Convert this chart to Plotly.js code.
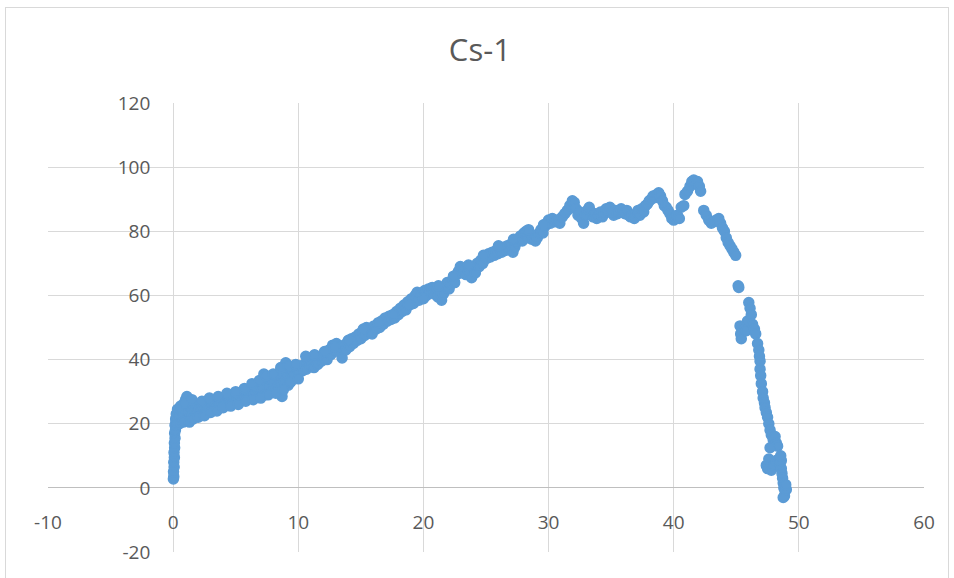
<!DOCTYPE html>
<html>
<head>
<meta charset="utf-8">
<script src="https://cdn.plot.ly/plotly-3.0.1.min.js"></script>
<style>
  html, body { margin: 0; padding: 0; background: #ffffff; }
  #chart { position: absolute; left: 0; top: 0; width: 954px; height: 578px; }
  #frame { position: absolute; left: 5px; top: 7px; width: 942px; height: 600px;
           border: 1px solid #d9d9d9; pointer-events: none; }
</style>
</head>
<body>
<div id="chart"></div>
<div id="frame"></div>
<script>
// ---- data ----
const chartTitle = "Cs-1";

const xValues = [
  0.02,0.05,0.03,0.08,0.05,0.10,0.07,0.12,0.10,0.15,0.12,0.18,0.15,0.22,0.20,0.30,0.25,0.40,0.45,0.35,
  0.55,0.60,0.70,0.75,0.85,0.95,1.00,1.10,1.05,1.20,1.30,1.40,1.50,1.60,1.70,1.80,1.90,2.00,2.10,2.20,
  2.30,2.45,2.60,2.70,2.85,3.00,3.10,3.25,3.40,3.50,3.65,3.80,3.95,4.10,4.25,4.40,4.55,4.70,4.85,5.00,
  5.15,5.30,5.45,5.60,5.75,5.90,6.05,6.20,6.35,6.50,6.60,6.75,6.90,7.00,7.15,7.25,7.35,7.50,7.60,7.70,
  7.85,8.00,8.10,8.25,8.40,8.50,8.60,8.70,8.80,8.90,9.00,9.10,9.20,9.30,9.45,9.60,9.75,9.90,10.05,10.20,
  10.35,10.50,10.65,10.80,10.95,11.10,11.25,11.40,11.55,11.70,11.85,12.00,12.15,12.30,12.45,12.60,12.75,12.90,13.05,13.20,
  13.35,13.50,13.65,13.80,13.95,14.10,14.25,14.40,14.55,14.70,14.85,15.00,15.15,15.30,15.45,15.60,15.75,15.90,16.05,16.20,
  16.35,16.50,16.65,16.80,16.95,17.10,17.25,17.40,17.55,17.70,17.85,18.00,18.15,18.30,18.45,18.60,18.75,18.90,19.05,19.20,
  19.35,19.50,19.65,19.80,19.95,20.10,20.25,20.40,20.55,20.70,20.85,21.00,21.15,21.30,21.45,21.60,21.75,21.90,22.05,22.20,
  22.35,22.50,22.65,22.80,22.95,23.10,23.25,23.40,23.55,23.70,23.85,24.00,24.15,24.30,24.45,24.60,24.75,24.90,25.05,25.20,
  25.35,25.50,25.65,25.80,25.95,26.10,26.25,26.40,26.55,26.70,26.85,27.00,27.15,27.30,27.45,27.60,27.75,27.90,28.05,28.20,
  28.35,28.50,28.65,28.80,28.95,29.10,29.25,29.40,29.55,29.70,29.85,30.00,30.15,30.30,30.50,30.70,30.90,31.10,31.30,31.50,
  31.70,31.90,32.05,32.20,32.35,32.50,32.65,32.80,32.95,33.10,33.25,33.40,33.55,33.70,33.85,34.00,34.15,34.30,34.45,34.60,
  34.75,34.90,35.05,35.20,35.35,35.50,35.65,35.80,35.95,36.10,36.25,36.40,36.55,36.70,36.85,37.00,37.15,37.30,37.45,37.60,
  37.75,37.90,38.05,38.20,38.35,38.50,38.65,38.80,38.95,39.10,39.25,39.40,39.55,39.70,39.85,40.00,40.15,40.30,40.45,40.60,
  40.80,40.90,41.10,41.30,41.45,41.60,41.75,41.90,42.05,42.15,42.40,42.60,42.80,43.00,43.20,43.40,43.60,43.75,43.90,44.05,
  44.20,44.35,44.50,44.65,44.80,44.95,45.15,45.20,45.30,45.35,45.40,45.55,45.70,45.80,45.90,46.00,46.10,46.20,46.30,46.45,
  46.55,46.70,46.80,46.85,46.90,46.90,46.95,47.00,47.10,47.15,47.25,47.30,47.40,47.50,47.60,47.70,47.80,47.95,48.10,48.20,
  48.30,47.70,47.60,47.40,47.50,47.80,48.00,48.20,48.40,48.50,48.60,48.65,48.70,48.75,48.80,48.90,48.85,48.75,49.00,48.95,
  48.60,48.55,
  0.30,0.50,0.80,1.30,1.60,2.00,2.50,3.00,3.50,4.00,4.60,5.20,5.80,6.40,7.00,7.60,8.20,8.80,9.40,10.00,
  0.60,0.90,1.50,2.30,2.90,3.60,4.30,5.00,5.70,6.30,6.90,7.40,8.00,8.60,9.20,9.80,10.60,11.30,12.10,12.90,
  14.00,15.20,16.40,17.60,18.80,20.00,21.20,22.40,23.60,24.80,26.00,27.20,28.40,29.60
];

const yValues = [
  2.8,3.5,5.0,6.5,8.0,9.5,11.0,12.5,14.0,15.5,17.0,18.0,19.5,20.5,21.5,22.0,23.0,21.0,23.5,24.5,
  22.5,24.5,21.5,25.0,23.0,26.0,27.5,28.5,24.0,21.0,25.5,22.5,26.5,24.0,22.0,25.5,23.5,26.0,24.5,22.5,
  25.0,26.5,23.5,25.5,24.5,26.5,25.0,27.0,25.5,27.5,26.0,28.0,26.5,27.5,26.0,28.5,27.0,28.0,26.5,28.5,
  27.5,29.0,27.5,29.5,28.0,30.0,28.5,31.0,29.0,32.0,29.5,31.0,28.5,33.0,30.5,35.5,29.0,33.0,31.5,34.0,
  30.0,33.5,31.0,35.0,30.5,36.0,32.5,28.5,37.5,33.0,39.0,35.0,32.0,37.0,34.5,36.5,35.0,37.5,36.0,38.0,
  36.5,38.5,37.0,40.0,38.0,39.0,37.5,40.0,38.5,41.0,39.5,40.5,42.0,40.0,43.0,41.5,44.5,43.0,45.0,42.5,
  44.0,40.5,44.5,43.0,45.5,44.0,46.5,45.0,47.0,46.0,48.0,46.5,49.0,47.5,50.0,48.5,49.5,48.0,50.5,49.5,
  51.0,50.0,52.0,51.0,53.0,52.0,53.5,52.5,54.0,53.0,55.0,54.0,56.0,55.0,57.0,55.5,58.0,57.0,59.0,57.5,
  60.0,61.0,58.5,60.5,59.5,61.5,60.0,62.0,61.0,62.5,60.5,62.0,59.5,61.0,58.5,60.5,62.5,64.0,62.0,63.5,
  65.0,64.0,66.5,67.5,69.0,67.0,68.5,66.5,68.0,67.0,65.5,68.5,67.0,70.0,69.0,71.0,70.0,72.0,71.5,73.0,
  72.0,73.5,72.5,74.0,73.0,74.5,73.5,75.0,74.0,75.5,74.5,76.0,73.5,75.0,76.5,77.5,78.5,77.0,79.5,80.0,
  78.0,79.0,77.5,78.5,77.0,78.0,79.5,80.5,79.5,81.5,82.5,83.5,82.5,84.0,83.0,83.5,82.5,84.5,85.5,86.5,
  88.0,89.5,89.0,87.0,85.0,86.0,84.0,82.5,85.0,86.5,87.5,86.0,84.5,85.5,84.0,85.0,86.0,84.5,85.5,87.0,
  86.0,87.5,86.0,85.0,86.5,85.5,86.0,87.0,86.0,85.5,86.5,85.0,84.5,85.0,84.0,85.5,86.5,85.0,87.0,86.0,
  88.0,88.5,89.5,90.0,91.0,90.5,91.5,92.0,91.0,89.5,88.0,87.5,86.5,85.5,84.0,83.5,84.5,85.0,84.0,87.5,
  88.0,91.5,92.5,94.0,95.5,96.0,95.0,95.5,94.0,92.5,86.5,85.0,83.5,82.5,83.0,83.5,84.0,82.5,81.0,80.0,
  78.0,76.5,75.5,74.5,73.5,72.5,63.0,62.5,50.5,48.0,46.5,49.0,50.5,49.0,52.0,57.8,56.0,54.0,51.0,49.5,
  48.0,45.0,43.0,41.0,39.5,37.0,35.0,32.5,30.0,28.0,26.5,25.0,23.5,22.0,20.0,18.0,16.5,15.0,16.0,14.0,
  13.0,12.5,9.0,7.0,6.0,5.5,7.0,8.5,9.0,7.5,6.0,4.5,3.0,1.5,0.0,-1.0,-2.5,-3.0,-0.5,1.0,
  8.5,10.0,
  19.5,20.0,20.5,20.5,21.5,22.0,22.5,23.5,24.0,25.0,25.5,26.0,27.0,27.5,28.0,29.0,29.5,30.5,33.0,34.0,
  25.5,26.5,27.5,27.0,28.0,28.5,29.5,30.0,31.0,32.5,33.5,35.0,35.5,37.5,38.0,38.5,41.0,41.5,42.5,44.0,
  46.0,49.5,51.5,54.0,57.0,59.0,63.0,66.0,69.5,72.5,75.5,77.5,80.5,82.0
];

const xTickValues = [-10, 0, 10, 20, 30, 40, 50, 60];
const xTickLabels = ["-10", "0", "10", "20", "30", "40", "50", "60"];
const yTickValues = [-20, 0, 20, 40, 60, 80, 100, 120];
const yTickLabels = ["-20", "0", "20", "40", "60", "80", "100", "120"];

// ---- chart ----
const xRange = [-10, 60];
const yRange = [-20, 120];
const tickFont = { family: "Open Sans, sans-serif", size: 19, color: "#595959" };

const trace = {
  type: "scatter",
  mode: "markers",
  x: xValues,
  y: yValues,
  marker: { color: "#5b9bd5", size: 10, line: { color: "#5b9bd5", width: 1.5 } },
  hoverinfo: "x+y",
  showlegend: false
};

const layout = {
  width: 954,
  height: 578,
  margin: { l: 48, r: 30, t: 103, b: 26, pad: 0 },
  paper_bgcolor: "#ffffff",
  plot_bgcolor: "#ffffff",
  title: {
    text: chartTitle,
    font: { family: "Open Sans, sans-serif", size: 31, color: "#595959" },
    xref: "container", x: 0.503, xanchor: "center",
    yref: "container", y: 0.913, yanchor: "middle"
  },
  xaxis: {
    range: xRange,
    tickvals: xTickValues,
    ticktext: xTickLabels,
    showgrid: true,
    gridcolor: "#d9d9d9",
    gridwidth: 1,
    zeroline: false,
    showline: false,
    anchor: "free",
    position: (0 - yRange[0]) / (yRange[1] - yRange[0]),
    ticks: "outside",
    ticklen: 17,
    tickcolor: "rgba(0,0,0,0)",
    tickfont: tickFont,
    fixedrange: true
  },
  yaxis: {
    range: yRange,
    tickvals: yTickValues,
    ticktext: yTickLabels,
    showgrid: true,
    gridcolor: "#d9d9d9",
    gridwidth: 1,
    zeroline: true,
    zerolinecolor: "#bfbfbf",
    zerolinewidth: 1,
    showline: false,
    anchor: "free",
    position: (0 - xRange[0]) / (xRange[1] - xRange[0]),
    ticks: "outside",
    ticklen: 19,
    tickcolor: "rgba(0,0,0,0)",
    tickfont: tickFont,
    fixedrange: true
  }
};

Plotly.newPlot("chart", [trace], layout, { displayModeBar: false, staticPlot: true });
</script>
</body>
</html>
